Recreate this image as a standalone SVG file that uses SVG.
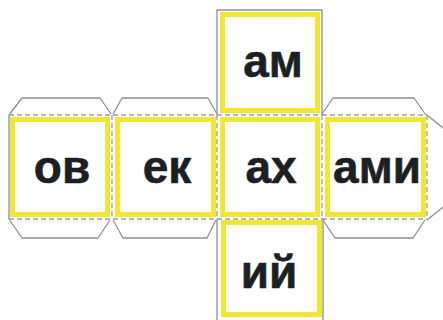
<svg xmlns="http://www.w3.org/2000/svg" width="443" height="320" viewBox="0 0 443 320">
  <style>
    .cut { fill: none; stroke: #8c9097; stroke-width: 1.3; stroke-linejoin: round; }
    .fold { fill: none; stroke: #9a9ea5; stroke-width: 1.3; stroke-dasharray: 5 3; }
    .face { fill: #ffffff; stroke: #f0e633; stroke-width: 5; }
    .lbl { font-family: "Liberation Sans", Arial, sans-serif; font-weight: bold; font-size: 46px; fill: #1c1f24; stroke: #1c1f24; stroke-width: 0.6; text-anchor: middle; }
  </style>
  <rect x="0" y="0" width="443" height="320" fill="#ffffff"/>
  <g id="connectors">
    <polyline class="cut" points="9,115 22,98 100,98 111,114"/>
    <polyline class="cut" points="113,114 122,98 208,98 217,114"/>
    <polyline class="cut" points="322,114 333,98 414,98 426,115"/>
    <polyline class="cut" points="9,219 22,238 98,238 110,220"/>
    <polyline class="cut" points="113,220 123,238 207,238 216,220"/>
    <polyline class="cut" points="323,220 335,238 413,238 425,220"/>
    <polyline class="cut" points="427,115 447,131 447,204 427,220"/>
    <line class="cut" x1="9" y1="115" x2="9" y2="219"/>
    <polyline class="cut" points="217,115 217,10 322,10 322,115"/>
    <polyline class="cut" points="217,219 217,320"/>
    <polyline class="cut" points="323,219 323,320"/>
    <line class="fold" x1="9" y1="115" x2="217" y2="115"/>
    <line class="fold" x1="322" y1="115" x2="427" y2="115"/>
    <line class="fold" x1="9" y1="219" x2="217" y2="219"/>
    <line class="fold" x1="322" y1="219" x2="427" y2="219"/>
    <line class="fold" x1="112" y1="115" x2="112" y2="219"/>
    <line class="fold" x1="217" y1="115" x2="217" y2="219"/>
    <line class="fold" x1="322" y1="115" x2="322" y2="219"/>
    <line class="fold" x1="427" y1="115" x2="427" y2="220"/>
    <line class="fold" x1="217" y1="115" x2="322" y2="115"/>
    <line class="fold" x1="217" y1="219" x2="322" y2="219"/>
  </g>
  <g id="face-am">
    <rect class="face" x="222.5" y="14.5" width="95" height="96"/>
    <text class="lbl" x="273" y="77">ам</text>
  </g>
  <g id="face-ov">
    <rect class="face" x="12.5" y="119.5" width="95" height="95"/>
    <text class="lbl" x="62" y="183">ов</text>
  </g>
  <g id="face-ek">
    <rect class="face" x="117.5" y="119.5" width="96" height="95"/>
    <text class="lbl" x="167" y="183">ек</text>
  </g>
  <g id="face-ax">
    <rect class="face" x="222.5" y="119.5" width="95" height="95"/>
    <text class="lbl" x="271" y="183">ах</text>
  </g>
  <g id="face-ami">
    <rect class="face" x="327.5" y="119.5" width="96" height="95"/>
    <text class="lbl" x="377" y="183">ами</text>
  </g>
  <g id="face-iy">
    <rect class="face" x="223.5" y="222.5" width="96" height="92"/>
    <text class="lbl" x="269" y="288">ий</text>
  </g>
</svg>
